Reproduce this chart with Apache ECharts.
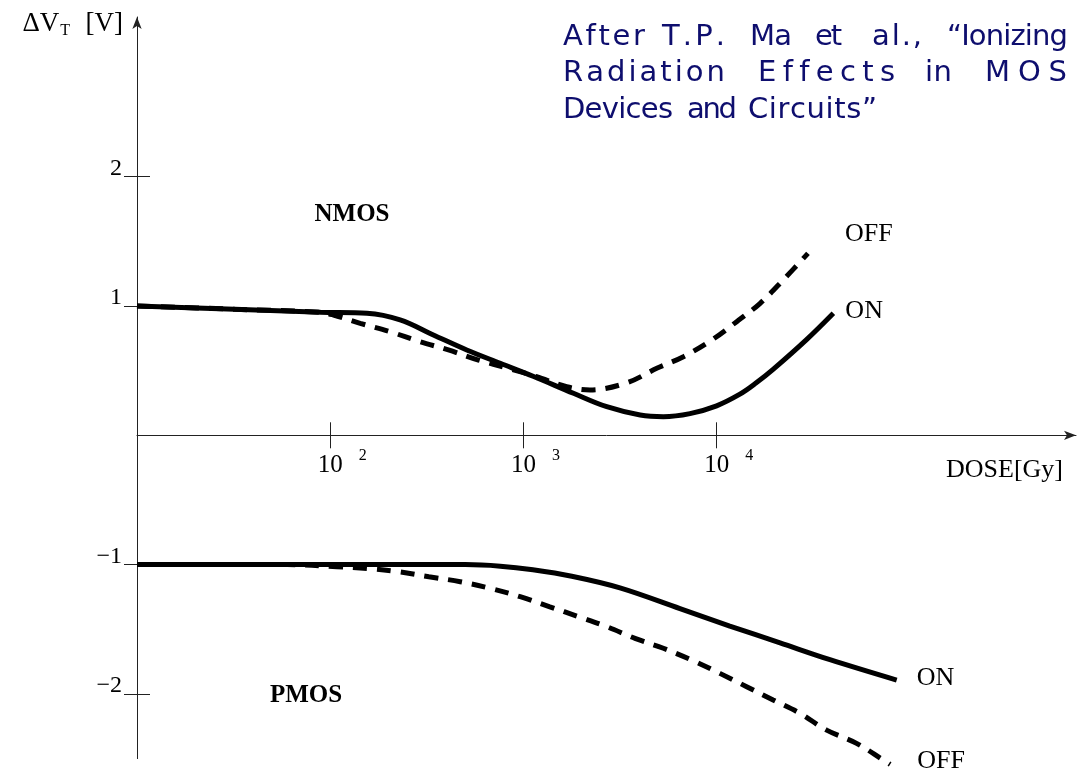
<!DOCTYPE html>
<html><head><meta charset="utf-8">
<script src="https://cdn.jsdelivr.net/npm/echarts@6/dist/echarts.min.js"></script>
<style>html,body{margin:0;padding:0;background:#fff}#c{width:1082px;height:771px}</style>
</head><body><div id="c"></div>
<script>
// Dose in Gy, threshold-voltage shift in V
const nmosOnDose = [10, 32, 89, 155, 230, 342, 509, 759, 1130, 1815, 2700, 4020, 5300, 7280, 10000, 13200, 15850, 19600, 29200, 40200];
const nmosOnDV   = [1.00, 0.975, 0.951, 0.943, 0.892, 0.776, 0.66, 0.557, 0.455, 0.325, 0.221, 0.157, 0.144, 0.168, 0.228, 0.318, 0.40, 0.51, 0.74, 0.944];
const nmosOffDose = [10, 32, 89, 104, 143, 204, 292, 409, 585, 836, 1170, 1675, 2210, 3430, 4900, 6730, 9440, 12700, 16800, 22100, 29700];
const nmosOffDV   = [1.00, 0.975, 0.951, 0.93, 0.866, 0.801, 0.724, 0.66, 0.582, 0.518, 0.453, 0.376, 0.351, 0.406, 0.518, 0.608, 0.737, 0.879, 1.021, 1.201, 1.407];
const pmosOnDose = [10, 100, 500, 759, 1120, 1780, 3160, 6460, 11700, 21300, 38600, 85500];
const pmosOnDV   = [-1.0, -1.0, -1.0, -1.012, -1.04, -1.09, -1.18, -1.34, -1.475, -1.605, -1.735, -1.893];
const pmosOffDose = [10, 60, 108, 155, 225, 324, 471, 673, 962, 1370, 1930, 2700, 3780, 5300, 7430, 10400, 14300, 19600, 27000, 37100, 53000, 72800, 79100];
const pmosOffDV   = [-1.0, -1.0, -1.016, -1.03, -1.055, -1.094, -1.132, -1.183, -1.248, -1.326, -1.403, -1.48, -1.57, -1.647, -1.738, -1.841, -1.944, -2.047, -2.15, -2.28, -2.382, -2.511, -2.545];

const xTickExponents = [2, 3, 4];          // ticks at 10^2, 10^3, 10^4 Gy
const yTicksUpper = [1, 2];
const yTicksLower = [-2, -1];
const curveLabels = { nmosOff: 'OFF', nmosOn: 'ON', pmosOn: 'ON', pmosOff: 'OFF' };
const groupLabels = ['NMOS', 'PMOS'];
const xAxisTitle = 'DOSE[Gy]';
const noteLines = [
  ['After', 'T.P.', 'Ma', 'et', 'al.,', '\u201CIonizing'],
  ['Radiation', 'Effects', 'in', 'MOS'],
  ['Devices', 'and', 'Circuits\u201D']
];

const SERIF = '"Liberation Serif", "DejaVu Serif", serif';
const pts = (dose, dv) => dose.map((d, i) => [Math.log10(d), dv[i]]);
const X_MIN = 1, X_MAX = 5.86, Y_TOP = 3.235, Y_BOT = -2.5;

function curve(name, grid, dose, dv, dashed, label, dx, lift) {
  return {
    name, type: 'line', xAxisIndex: grid * 2, yAxisIndex: grid * 2,
    data: pts(dose, dv), showSymbol: false, symbol: 'none',
    smooth: 0.35, clip: false, silent: true,
    lineStyle: { color: '#000', width: 5, type: dashed ? [14, 10] : 'solid', cap: 'butt' },
    endLabel: { show: true, formatter: '{a|' + label + '}', distance: 0, padding: [0, 0, 0, dx],
      rich: { a: { fontFamily: SERIF, fontSize: 26, color: '#000', padding: [0, 0, lift * 2, 0] } } }
  };
}

const lineCol = '#222';
function xAxes(gridIndex, visible) {
  return [
    { type: 'value', gridIndex, min: X_MIN, max: X_MAX, position: 'bottom',
      axisLine: { show: visible, onZero: false, symbol: ['none', 'arrow'], symbolSize: [7, 12], lineStyle: { color: lineCol, width: 1 } },
      axisTick: { show: visible, inside: false, length: 13, customValues: xTickExponents, lineStyle: { color: lineCol } },
      axisLabel: { show: visible, customValues: xTickExponents, margin: 12,
        formatter: v => '{b|10}{s|' + v + '}',
        rich: { b: { fontFamily: SERIF, fontSize: 25, color: '#000', padding: [0, 0, 0, 24] },
                s: { fontFamily: SERIF, fontSize: 16, color: '#000', padding: [0, 0, 20, 16] } } },
      splitLine: { show: false } },
    { type: 'value', gridIndex, min: X_MIN, max: X_MAX, position: 'bottom',
      axisLine: { show: false, onZero: false },
      axisTick: { show: visible, inside: true, length: 13, customValues: xTickExponents, lineStyle: { color: lineCol } },
      axisLabel: { show: false }, splitLine: { show: false } }
  ];
}
function yAxes(gridIndex, min, max, ticks, arrow) {
  return [
    { type: 'value', gridIndex, min, max, position: 'left',
      axisLine: { show: true, onZero: false, symbol: arrow ? ['none', 'arrow'] : 'none', symbolSize: [7, 12], lineStyle: { color: lineCol, width: 1 } },
      axisTick: { show: true, inside: false, length: 13, customValues: ticks, lineStyle: { color: lineCol } },
      axisLabel: { show: true, customValues: ticks, margin: 15, verticalAlign: 'bottom', lineHeight: 16,
        fontFamily: SERIF, fontSize: 24, color: '#000',
        formatter: v => (v < 0 ? '\u2212' + Math.abs(v) : String(v)) },
      splitLine: { show: false } },
    { type: 'value', gridIndex, min, max, position: 'left',
      axisLine: { show: false, onZero: false },
      axisTick: { show: true, inside: true, length: 13, customValues: ticks, lineStyle: { color: lineCol } },
      axisLabel: { show: false }, splitLine: { show: false } }
  ];
}

// Note text: each word stretched over its span, letter by letter
const noteColor = '#0e0e6e';
const noteFontCss = '29px "DejaVu Sans", sans-serif';
const noteSpans = [
  [[563, 645], [662, 725], [750, 792], [815, 842], [872, 922], [947, 1068]],
  [[563, 725], [758, 895], [925, 952], [985, 1067]],
  [[563, 673], [687, 737], [748, 877]]
];
const noteYs = [37, 73, 110];
const ctx = document.createElement('canvas').getContext('2d');
ctx.font = noteFontCss;
const noteGraphics = [];
noteLines.forEach((words, li) => {
  words.forEach((w, wi) => {
    const [x0, x1] = noteSpans[li][wi];
    const chars = Array.from(w);
    const widths = chars.map(c => ctx.measureText(c).width);
    const total = widths.reduce((a, b) => a + b, 0);
    const gap = chars.length > 1 ? (x1 - x0 - total) / (chars.length - 1) : 0;
    let x = x0;
    chars.forEach((c, ci) => {
      noteGraphics.push({ type: 'text', x: x, y: noteYs[li], silent: true,
        style: { text: c, fill: noteColor, font: noteFontCss, textAlign: 'left', textVerticalAlign: 'middle' } });
      x += widths[ci] + gap;
    });
  });
});

const chart = echarts.init(document.getElementById('c'), null, { renderer: 'canvas' });
chart.setOption({
  animation: false,
  backgroundColor: '#fff',
  grid: [
    { left: 137, right: 6, top: 17, bottom: 335.7, outerBoundsMode: 'none', containLabel: false },
    { left: 137, right: 6, top: 435.3, bottom: 12.4, outerBoundsMode: 'none', containLabel: false }
  ],
  xAxis: xAxes(0, true).concat(xAxes(1, false)),
  yAxis: yAxes(0, 0, Y_TOP, yTicksUpper, true).concat(yAxes(1, Y_BOT, 0, yTicksLower, false)),
  series: [
    curve('NMOS OFF', 0, nmosOffDose, nmosOffDV, true, curveLabels.nmosOff, 37, 19),
    curve('NMOS ON', 0, nmosOnDose, nmosOnDV, false, curveLabels.nmosOn, 12, 2),
    curve('PMOS OFF', 1, pmosOffDose, pmosOffDV, true, curveLabels.pmosOff, 27, 3),
    curve('PMOS ON', 1, pmosOnDose, pmosOnDV, false, curveLabels.pmosOn, 20, 2)
  ],
  graphic: [
    { type: 'text', x: 123, y: 24, silent: true,
      style: { text: '{a|\u0394V}{s|T}{a|  [V]}', textAlign: 'right', textVerticalAlign: 'middle',
        rich: { a: { fontFamily: SERIF, fontSize: 27, fill: '#000' },
                s: { fontFamily: SERIF, fontSize: 16, fill: '#000', padding: [14, 2, 0, 1] } } } },
    { type: 'text', x: 352, y: 215, silent: true,
      style: { text: groupLabels[0], font: 'bold 25px ' + SERIF, fill: '#000', textAlign: 'center', textVerticalAlign: 'middle' } },
    { type: 'text', x: 306, y: 696, silent: true,
      style: { text: groupLabels[1], font: 'bold 25px ' + SERIF, fill: '#000', textAlign: 'center', textVerticalAlign: 'middle' } },
    { type: 'text', x: 1063, y: 470, silent: true,
      style: { text: xAxisTitle, font: '26px ' + SERIF, fill: '#000', textAlign: 'right', textVerticalAlign: 'middle' } }
  ].concat(noteGraphics)
});
</script></body></html>
